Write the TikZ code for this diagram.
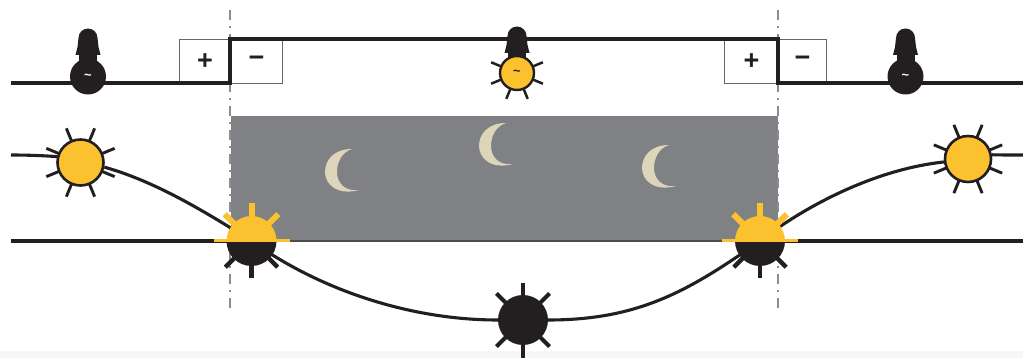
\documentclass[tikz,border=0pt]{standalone}
\usepackage{fontspec}
\setmainfont{Liberation Sans}
\definecolor{ink}{HTML}{231F20}
\definecolor{sun}{HTML}{FCC12E}
\definecolor{night}{HTML}{808184}
\definecolor{moon}{HTML}{DDD5BA}
\tikzset{
  main line/.style={draw=ink,line width=3.1pt},
  divider/.style={draw=black!45,line width=1.3pt,dash pattern=on 10pt off 6pt on 2pt off 6pt},
  sign box/.style={draw=black!60,line width=.9pt,minimum width=#1,minimum height=44pt,inner sep=0pt,font=\fontsize{27}{27}\selectfont\bfseries,text=ink,anchor=north west},
  ray/.style={draw=ink,line width=2.9pt},
  disc/.style={circle,inner sep=0pt,minimum size=46pt},
  sun disc/.style={disc,draw=ink,line width=2.6pt,fill=sun},
  night disc/.style={disc,fill=ink,minimum size=50pt},
  tilde/.style={inner sep=0pt,font=\fontsize{13}{13}\selectfont\bfseries},
  pics/bulbbase/.style={code={
    \fill[ink] (-12.5,0) -- (-10.5,-8) -- (-9.5,-17) arc[start angle=180,end angle=360,radius=9.5] -- (10.5,-8) -- (12.5,0) -- cycle;
    \fill[ink] (-9,0) rectangle (9,6);
  }},
  pics/sunrays/.style={code={
    \foreach \a in {22.5,67.5,...,360} \draw[ray] (\a:22) -- (\a:37);
  }},
  pics/nightrays/.style={code={
    \foreach \a in {45,90,135,225,270,315}\draw[ray,line width=4pt] (\a:20) -- (\a:37.5);
  }},
  pics/horizonsun/.style={code={
    \foreach \a in {45,90,135}\draw[draw=sun,line width=6pt] (-\a:20) -- (-\a:38);
    \foreach \a in {45,90,135}\draw[ray,line width=4.4pt] (\a:20) -- (\a:37);
    \fill[sun] (-25,0) arc[start angle=180,end angle=360,radius=25] -- cycle;
    \fill[ink] (-25,0) arc[start angle=180,end angle=0,radius=25] -- cycle;
    \fill[sun] (-38,-1.8) rectangle (38,1);
  }},
  pics/crescent/.style={code={
    \fill[moon] (10,-21) .. controls (-8,-21) and (-17,-10) .. (-17,2) .. controls (-17,14) and (-5,26) .. (17,20) .. controls (2,22) and (-5,12) .. (-5,2) .. controls (-5,-8) and (0,-18) .. (10,-21) -- cycle;
  }}
}
\begin{document}
\begin{tikzpicture}[x=1pt,y=-1pt]
\useasboundingbox (0,0) rectangle (1023,358);
\fill[white] (0,0) rectangle (1023,358);
\fill[black!3] (0,351) rectangle (1023,358);

\coordinate (L0) at (11,83);
\coordinate (LA) at (230,83);
\coordinate (LB) at (230,39);
\coordinate (RB) at (778,39);
\coordinate (RA) at (778,83);
\coordinate (R0) at (1023,83);
\coordinate (HL) at (11,241);
\coordinate (HR) at (1023,241);
\coordinate (CL) at (11,155);
\coordinate (CR) at (1023,155);
\coordinate (DL1) at (230,10);
\coordinate (DL2) at (230,310);
\coordinate (DR1) at (778,10);
\coordinate (DR2) at (778,310);
\coordinate (SR) at (251.5,241);
\coordinate (SS) at (760,241);

% night band
\fill[night] (231,116) rectangle (778,242);

% pos/neg boxes
\node[sign box=51pt] (p1) at (179,39) {+};
\node[sign box=52pt] (m1) at (230,39) {\raisebox{-3pt}{−}};
\node[sign box=54pt] (p2) at (724,39) {+};
\node[sign box=48pt] (m2) at (778,39) {\raisebox{-3pt}{−}};

% dividers
\draw[divider] (DL1) -- (DL2);
\draw[divider] (DR1) -- (DR2);

% supply line
\draw[main line,line join=miter] (L0) -- (LA) -- (LB) -- (RB) -- (RA) -- (R0);
% horizon: heavy outside the band, hairline along its lower edge
\draw[main line] (HL) -- (SR);
\draw[draw=ink!80,line width=1.2pt] (SR) -- (SS);
\draw[main line] (SS) -- (HR);

% suns
\pic at (80.5,162.5) {sunrays};
\pic at (968,159) {sunrays};
\pic at (523,320) {nightrays};
\node[sun disc] (sunL) at (80.5,162.5) {};
\node[sun disc] (sunR) at (968,159) {};
\node[night disc] (sunN) at (523,320) {};

% sun path
\draw[main line] (CL) .. controls (25,155) and (42,155.5) .. (sunL.166);
\draw[main line] (sunL.-11) .. controls (150,180) and (195,205) .. (SR);
\draw[main line] (SR) .. controls (320,290) and (410,320) .. (sunN.180);
\draw[main line] (sunN.0) .. controls (640,320) and (690,290) .. (SS);
\draw[main line] (SS) .. controls (800,210) and (870,170) .. (sunR.187);
\draw[main line] (sunR.10) .. controls (1000,155) and (1010,155) .. (CR);

\pic at (SR) {horizonsun};
\pic at (SS) {horizonsun};

% moons
\pic at (342,170) {crescent};
\pic at (496,144) {crescent};
\pic at (659,166) {crescent};

% bulbs
\pic at (88,55) {bulbbase};
\node[circle,fill=ink,minimum size=36pt,inner sep=0pt] (b1) at (88,76.5) {};
\node[tilde,text=white] (b1t) at (88,76.5) {\textasciitilde};
\pic at (905.5,55) {bulbbase};
\node[circle,fill=ink,minimum size=36pt,inner sep=0pt] (b3) at (905.5,76.5) {};
\node[tilde,text=white] (b3t) at (905.5,76.5) {\textasciitilde};
\foreach \a in {22.5,-22.5,157.5,202.5,67.5,112.5}
  \draw[ray,line width=2.5pt] (517,73) ++(\a:18) -- ++(\a:10);
\pic at (517,53) {bulbbase};
\node[circle,fill=sun,draw=ink,line width=2.4pt,minimum size=34pt,inner sep=0pt] (b2) at (517,73) {};
\node[tilde,text=ink] (b2t) at (517,73) {\textasciitilde};
\end{tikzpicture}
\end{document}
